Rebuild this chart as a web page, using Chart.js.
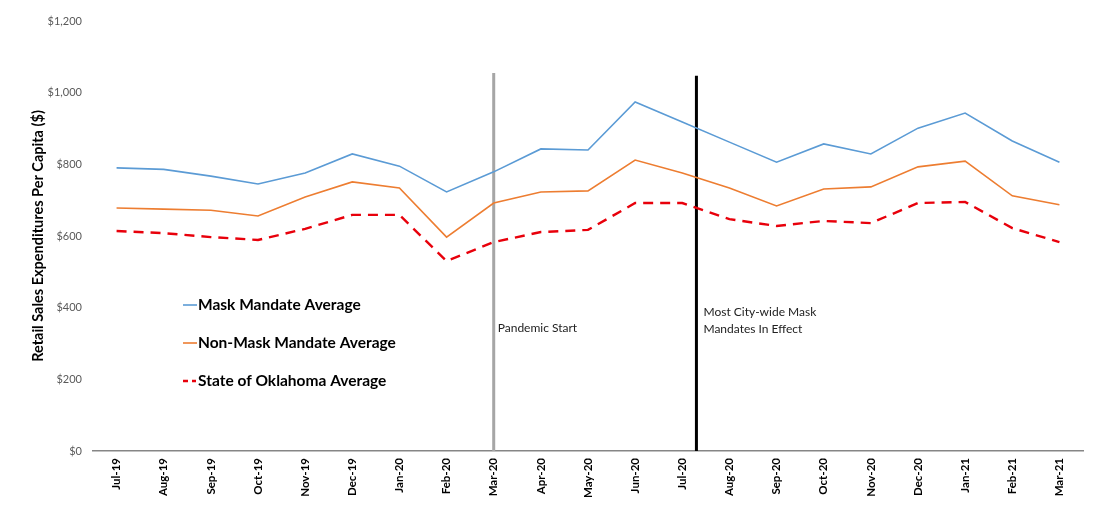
<!DOCTYPE html>
<html>
<head>
<meta charset="utf-8">
<script src="https://cdn.jsdelivr.net/npm/chart.js@4/dist/chart.umd.min.js"></script>
<style>
  html, body { margin: 0; padding: 0; background: #fff; }
</style>
</head>
<body>
<canvas id="myChart" width="1099" height="508"></canvas>
<script>
// months on the x axis
const months = ['Jul-19', 'Aug-19', 'Sep-19', 'Oct-19', 'Nov-19', 'Dec-19', 'Jan-20', 'Feb-20',
    'Mar-20', 'Apr-20', 'May-20', 'Jun-20', 'Jul-20', 'Aug-20', 'Sep-20', 'Oct-20', 'Nov-20',
    'Dec-20', 'Jan-21', 'Feb-21', 'Mar-21'];

// retail sales per capita ($)
const maskMandate = [790, 786, 767, 745, 776, 829, 795, 723, 779, 843, 840, 974, 918, 862, 806,
    857, 829, 901, 943, 865, 806];
const nonMaskMandate = [678, 675, 672, 656, 709, 751, 734, 597, 692, 723, 726, 812, 776, 734, 684,
    731, 737, 793, 809, 712, 687];
const oklahomaAvg = [614, 608, 597, 589, 620, 659, 659, 530, 583, 611, 617, 692, 692, 647, 628,
    642, 636, 692, 695, 622, 583];

const yTicks = [0, 200, 400, 600, 800, 1000, 1200];

// event markers (category index) and their notes
const markerAt = [8, 12.3];
const markerTop = [1055, 1047];
const markerNotes = [['Pandemic Start'], ['Most City-wide Mask', 'Mandates In Effect']];
const noteValue = [343, 365];

const seriesNames = ['Mask Mandate Average', 'Non-Mask Mandate Average', 'State of Oklahoma Average'];

const markerPlugin = {
    id: 'markers',
    beforeDatasetsDraw(chart) {
        const ctx = chart.ctx;
        const x = chart.scales.x, y = chart.scales.y;
        const colors = ['#a6a6a6', '#000000'];
        ctx.save();
        markerAt.forEach((m, i) => {
            const px = x.getPixelForValue(m);
            ctx.strokeStyle = colors[i];
            ctx.lineWidth = 3;
            ctx.beginPath();
            ctx.moveTo(px, y.getPixelForValue(markerTop[i]));
            ctx.lineTo(px, y.getPixelForValue(0));
            ctx.stroke();
        });
        ctx.restore();
    },
    afterDatasetsDraw(chart) {
        const ctx = chart.ctx;
        const x = chart.scales.x, y = chart.scales.y;
        ctx.save();
        ctx.fillStyle = '#222';
        ctx.font = '12px Lato';
        ctx.textBaseline = 'middle';
        markerAt.forEach((m, i) => {
            const px = x.getPixelForValue(m) + (i === 0 ? 4 : 7);
            const py = y.getPixelForValue(noteValue[i]);
            markerNotes[i].forEach((t, j) => ctx.fillText(t, px, py - 8 * (markerNotes[i].length - 1) + j * 17));
        });

        // legend inside the plot
        const lx = chart.chartArea.left + 90;
        const ly = 305;
        ctx.font = 'bold 15.5px Lato';
        ctx.fillStyle = '#000';
        chart.data.datasets.forEach((ds, i) => {
            const yy = ly + i * 38;
            ctx.strokeStyle = ds.borderColor;
            ctx.lineWidth = ds.borderWidth;
            ctx.beginPath();
            if (ds.borderDash) {
                ctx.moveTo(lx, yy); ctx.lineTo(lx + 5, yy);
                ctx.moveTo(lx + 9, yy); ctx.lineTo(lx + 13, yy);
            } else {
                ctx.moveTo(lx, yy); ctx.lineTo(lx + 14, yy);
            }
            ctx.stroke();
            ctx.fillText(seriesNames[i], lx + 15, yy);
        });
        ctx.restore();
    }
};

const ctx = document.getElementById('myChart').getContext('2d');
const myChart = new Chart(ctx, {
    type: 'line',
    data: {
        labels: months,
        datasets: [{
            label: seriesNames[0],
            data: maskMandate,
            borderColor: '#5b9bd5',
            borderWidth: 1.6
        }, {
            label: seriesNames[1],
            data: nonMaskMandate,
            borderColor: '#ed7d31',
            borderWidth: 1.6
        }, {
            label: seriesNames[2],
            data: oklahomaAvg,
            borderColor: '#e8000b',
            borderWidth: 2.4,
            borderDash: [10, 7]
        }]
    },
    options: {
        responsive: false,
        animation: false,
        devicePixelRatio: 1,
        elements: { point: { radius: 0 }, line: { tension: 0 } },
        layout: { padding: { top: 21, left: 30, right: 16, bottom: 0 } },
        plugins: { legend: { display: false }, tooltip: { enabled: false } },
        scales: {
            x: {
                offset: true,
                grid: { display: false, drawTicks: false },
                border: { display: true, color: '#868686', width: 1.5 },
                ticks: {
                    minRotation: 90, maxRotation: 90, padding: 7,
                    color: '#000',
                    font: { family: 'Lato', size: 11.5, weight: 'bold' }
                },
                afterFit: (s) => { s.height = 57; }
            },
            y: {
                min: 0, max: 1200,
                afterBuildTicks: (s) => { s.ticks = yTicks.map(v => ({ value: v })); },
                grid: { display: false, drawTicks: false },
                border: { display: false },
                ticks: {
                    padding: 11,
                    color: '#595959',
                    font: { family: 'Lato', size: 11 },
                    callback: (v) => '$' + v.toLocaleString('en-US')
                },
                title: {
                    display: true,
                    text: 'Retail Sales Expenditures Per Capita ($)',
                    color: '#000',
                    padding: 0,
                    font: { family: 'Lato', size: 14.5, weight: 'bold' }
                },
                afterFit: (s) => { s.width = 63; }
            }
        }
    },
    plugins: [markerPlugin]
});
</script>
</body>
</html>
